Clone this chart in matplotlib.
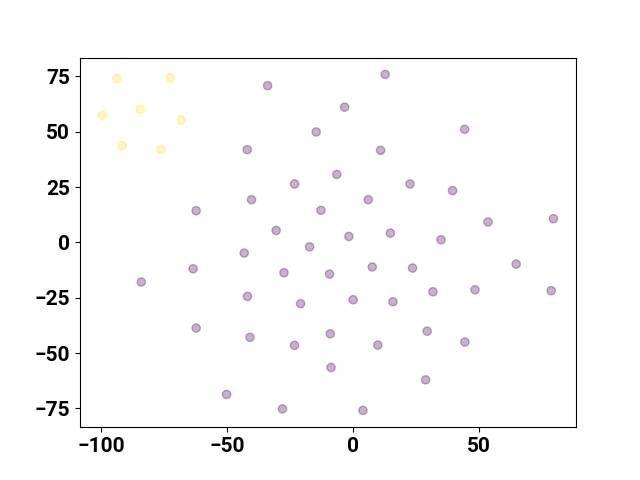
import matplotlib
matplotlib.use("Agg")
import matplotlib.pyplot as plt
import numpy as np

plt.rcParams['font.family'] = ['Roboto', 'DejaVu Sans']
plt.rcParams['font.weight'] = 'bold'

x_yellow = [-93.8, -72.6, -99.5, -84.5, -68.2, -91.7, -76.2]
y_yellow = [74.0, 74.3, 57.4, 60.0, 55.3, 43.7, 42.0]

x_purple = [-33.9, -14.6, -42.0, -23.2, -40.3, -12.7, -62.3, -30.5, -17.2,
            12.8, -3.3, 44.4, 11.0, -6.4, 22.7, 39.6, 6.1, 53.7, 79.7,
            -1.6, 14.9, 35.0, -43.2, -63.5, -27.4, -9.3, -84.1, -41.9,
            -20.8, -62.3, -40.9, -9.0, -23.2, -8.7, -50.2, -28.0, 7.7,
            23.7, 64.9, 0.1, 15.9, 31.8, 48.5, 78.8, 29.5, 9.9, 44.5,
            28.9, 4.0]
y_purple = [70.8, 49.9, 41.9, 26.4, 19.3, 14.5, 14.3, 5.4, -2.0,
            75.9, 61.1, 51.1, 41.6, 30.7, 26.4, 23.4, 19.3, 9.2, 10.7,
            2.7, 4.2, 1.2, -4.8, -11.9, -13.7, -14.3, -17.9, -24.4,
            -27.7, -38.7, -42.9, -41.3, -46.5, -56.5, -68.7, -75.2, -11.1,
            -11.6, -9.8, -25.9, -26.8, -22.3, -21.4, -21.8, -40.1, -46.4, -45.0,
            -62.1, -75.9]

x = np.array(x_yellow + x_purple)
y = np.array(y_yellow + y_purple)
labels = np.array([1] * len(x_yellow) + [0] * len(x_purple))

fig, ax = plt.subplots(figsize=(6.4, 4.8), dpi=100)
ax.scatter(x, y, c=labels, cmap='viridis', alpha=0.3)
ax.tick_params(labelsize=15)
for lab in ax.get_xticklabels() + ax.get_yticklabels():
    lab.set_fontweight('bold')
fig.savefig("out.png")
